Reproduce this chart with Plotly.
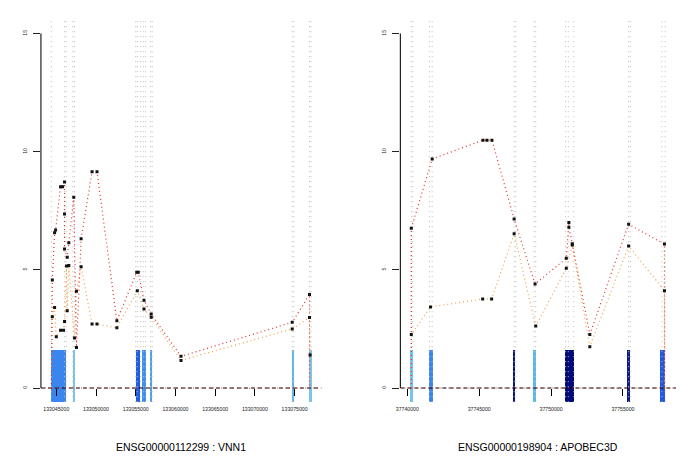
import plotly.graph_objects as go

# ---- left gene: ENSG00000112299 : VNN1 ----
left_title = "ENSG00000112299 : VNN1"
left_red_pos = [133044375, 133044500, 133044788, 133044913, 133045538, 133045788, 133046038, 133046038,
                133046038, 133046375, 133046575, 133047200, 133047538, 133048125, 133049500, 133050125,
                133052625, 133055125, 133055325, 133056038, 133056950, 133060700, 133074700, 133076875,
                133076875]
left_red_val = [0, 4.57, 6.57, 6.69, 8.52, 8.52, 8.72, 7.36,
                5.88, 5.53, 6.15, 8.07, 1.72, 6.32, 9.15, 9.15,
                2.85, 4.90, 4.90, 3.71, 3.13, 1.34, 2.78, 3.96,
                0]
left_orange_pos = [133044375, 133044500, 133044788, 133045000, 133045538, 133045913, 133046038, 133046288,
                   133046375, 133046575, 133047288, 133047538, 133048125, 133049500, 133050125, 133052625,
                   133055200, 133056038, 133056950, 133060700, 133074700, 133076875, 133076950, 133076950]
left_orange_val = [0, 3.02, 3.41, 2.17, 2.45, 2.45, 2.81, 5.16,
                   3.27, 5.18, 2.12, 4.10, 5.13, 2.71, 2.71, 2.55,
                   4.12, 3.34, 2.99, 1.17, 2.50, 2.98, 1.40, 0]
left_exon_start = [133044375, 133047075, 133055075, 133055825, 133056750, 133074625, 133076788]
left_exon_end = [133046250, 133047375, 133055538, 133056250, 133057075, 133074913, 133077125]
left_exon_color = ["#3a86ee", "#72c6ee", "#1f5ce6", "#3f8ef0", "#4c9fe6", "#5bb5e5", "#72c6ee"]
left_vlines = [133044375, 133046038, 133046250, 133047075, 133047288, 133055000, 133055200, 133055625,
               133055950, 133056250, 133056875, 133057075, 133074700, 133074913, 133076875, 133077075]
left_ticks = [133045000, 133050000, 133055000, 133060000, 133065000, 133070000, 133075000]
left_range = [133043067, 133078383]

# ---- right gene: ENSG00000198904 : APOBEC3D ----
right_title = "ENSG00000198904 : APOBEC3D"
right_red_pos = [37740277, 37740277, 37741731, 37745263, 37745540, 37745886, 37747431, 37748885,
                 37751060, 37751239, 37751239, 37751475, 37752694, 37755394, 37757887, 37757887]
right_red_val = [0, 6.76, 9.69, 10.49, 10.49, 10.49, 7.15, 4.40,
                 5.49, 7.01, 6.80, 6.11, 2.27, 6.93, 6.09, 0]
right_orange_pos = [37740277, 37740277, 37741613, 37745242, 37745865, 37747431, 37748933, 37751060,
                    37751475, 37752694, 37755394, 37757887, 37757887]
right_orange_val = [0, 2.26, 3.43, 3.77, 3.77, 6.53, 2.62, 5.07,
                    6.05, 1.75, 6.01, 4.12, 0]
right_exon_start = [37740229, 37741544, 37747431, 37748774, 37751011, 37755325, 37757638]
right_exon_end = [37740395, 37741780, 37747548, 37749003, 37751655, 37755512, 37757984]
right_exon_color = ["#6cc5ee", "#3a86ee", "#0a0f80", "#55b8ee", "#000a7a", "#0c1a8a", "#2058e0"]
right_vlines = [37740277, 37740395, 37741544, 37741731, 37747431, 37747548, 37748816, 37748933,
                37751011, 37751198, 37751586, 37755394, 37755512, 37757707, 37757936]
right_ticks = [37740000, 37745000, 37750000, 37755000]
right_range = [37739519, 37758694]

y_ticks = [0, 5, 10, 15]
y_range = [-0.6, 15.6]
exon_top = 1.6

W, H = 685, 462

def fx(px):
    return px / W

def fy(py):
    return (H - py) / H

panels = [
    dict(title=left_title, red=(left_red_pos, left_red_val), orange=(left_orange_pos, left_orange_val),
         es=left_exon_start, ee=left_exon_end, ec=left_exon_color, vl=left_vlines,
         ticks=left_ticks, rng=left_range, px=(36.2, 318.8)),
    dict(title=right_title, red=(right_red_pos, right_red_val), orange=(right_orange_pos, right_orange_val),
         es=right_exon_start, ee=right_exon_end, ec=right_exon_color, vl=right_vlines,
         ticks=right_ticks, rng=right_range, px=(398.3, 676.0)),
]

ydom = [fy(402.2), fy(19.4)]
fig = go.Figure()
font = "Liberation Sans, Arial, sans-serif"

for i, p in enumerate(panels):
    n = "" if i == 0 else str(i + 1)
    xa, ya = "x" + n, "y" + n

    # exon blocks
    fig.add_trace(go.Bar(
        x=[(s + e) / 2 for s, e in zip(p["es"], p["ee"])],
        width=[e - s for s, e in zip(p["es"], p["ee"])],
        y=[exon_top - y_range[0]] * len(p["es"]), base=y_range[0],
        marker=dict(color=p["ec"], line=dict(width=0)),
        xaxis=xa, yaxis=ya, showlegend=False, hoverinfo="skip"))

    # exon boundaries
    for v in p["vl"]:
        fig.add_trace(go.Scatter(x=[v, v], y=y_range, mode="lines",
                                 line=dict(color="#bdbdbd", width=1, dash="1px,4px"),
                                 xaxis=xa, yaxis=ya, showlegend=False, hoverinfo="skip"))

    # baseline
    fig.add_trace(go.Scatter(x=p["rng"], y=[0, 0], mode="lines",
                             line=dict(color="black", width=1, dash="4px,3px"),
                             xaxis=xa, yaxis=ya, showlegend=False))
    fig.add_trace(go.Scatter(x=p["rng"], y=[0, 0], mode="lines",
                             line=dict(color="#e33b2e", width=1, dash="1px,3px"),
                             xaxis=xa, yaxis=ya, showlegend=False))

    for key, col in [("orange", "#f0a040"), ("red", "#e0302a")]:
        xs, ys = p[key]
        fig.add_trace(go.Scatter(x=xs, y=ys, mode="lines",
                                 line=dict(color=col, width=1.2, dash="1px,3px"),
                                 xaxis=xa, yaxis=ya, showlegend=False))
    for key in ["orange", "red"]:
        xs, ys = p[key]
        fig.add_trace(go.Scatter(x=xs[1:-1], y=ys[1:-1], mode="markers",
                                 marker=dict(symbol="square", size=3, color="#111111"),
                                 xaxis=xa, yaxis=ya, showlegend=False))

    # y axis line only spans 0..15 (R style)
    fig.add_shape(type="line", xref=xa + " domain", yref=ya, x0=0, x1=0, y0=0, y1=15,
                  line=dict(color="#222222", width=1.2))

    x0, x1 = p["px"]
    fig.update_layout(**{
        "xaxis" + n: dict(domain=[fx(x0), fx(x1)], range=p["rng"], anchor="free",
                          position=fy(388), showgrid=False, zeroline=False, showline=False,
                          tickvals=p["ticks"], ticktext=[str(t) for t in p["ticks"]],
                          ticks="outside", ticklen=7, tickcolor="black",
                          ticklabelstandoff=9,
                          tickfont=dict(size=5.2, color="#222", family=font)),
        "yaxis" + n: dict(domain=ydom, range=y_range, anchor=xa, showgrid=False, zeroline=False,
                          showline=False, tickvals=y_ticks, ticks="outside", ticklen=7,
                          tickcolor="#222", tickangle=-90, ticklabelstandoff=4,
                          tickfont=dict(size=5.2, color="#222", family=font)),
    })
    fig.add_annotation(text=p["title"], xref="paper", yref="paper", x=fx((x0 + x1) / 2),
                       y=fy(447), xanchor="center", yanchor="middle", showarrow=False,
                       font=dict(size=10.5, color="black", family=font))

fig.update_layout(width=W, height=H, margin=dict(l=0, r=0, t=0, b=0),
                  plot_bgcolor="white", paper_bgcolor="white", barmode="overlay", bargap=0)
# drop the default page margin so the figure sits at the window's corner
fig.write_html("out.html", config={"displayModeBar": False},
               post_script="document.body.style.margin='0';")
